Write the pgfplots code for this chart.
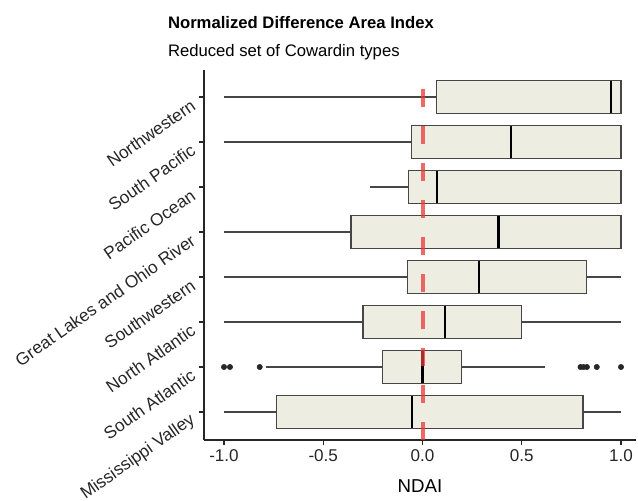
\documentclass[border=0pt]{standalone}
\usepackage{fontspec}
\setmainfont{Liberation Sans}
\usepackage{pgfplots}
\pgfplotsset{compat=1.18}
\usepgfplotslibrary{statistics}
\definecolor{boxfill}{RGB}{237,237,225}
\definecolor{boxedge}{RGB}{70,70,70}
\definecolor{refred}{RGB}{235,55,55}
\begin{document}
\begin{tikzpicture}
\begin{axis}[
  scale only axis,
  width=324pt, height=277.5pt,
  xmin=-1.1008, xmax=1.0756,
  ymin=0.378, ymax=8.6,
  axis lines*=left,
  axis line style={black!85, line width=0.8pt},
  tick align=outside,
  major tick length=3.75pt,
  tick style={black!85, line width=0.8pt},
  xtick={-1,-0.5,0,0.5,1},
  xticklabels={-1.0,-0.5,0.0,0.5,1.0},
  ytick={1,2,3,4,5,6,7,8},
  yticklabels={Mississippi Valley,South Atlantic,North Atlantic,Southwestern,Great Lakes and Ohio River,Pacific Ocean,South Pacific,Northwestern},
  yticklabel style={yshift=-3pt, xshift=-1.5pt, rotate=35, anchor=east, font=\fontsize{13}{15}\selectfont, text=black!85},
  xticklabel style={font=\fontsize{12.8}{15}\selectfont, text=black!85},
  /pgf/number format/assume math mode=true,
  xlabel={NDAI},
  xlabel style={at={(axis description cs:0.5,0)}, anchor=base, yshift=-39pt, font=\fontsize{14}{16}\selectfont},
  boxplot/draw direction=x,
  boxplot/box extend=0.73,
  boxplot/whisker extend=0,
  boxplot/every box/.style={draw=boxedge, fill=boxfill, line width=1pt},
  boxplot/every whisker/.style={draw=boxedge, line width=0.9pt},
  boxplot/every median/.style={draw=black, line width=1.6pt},
  clip=false,
]
\addplot[boxplot prepared={lower whisker=-1.0, lower quartile=0.07, median=0.95, upper quartile=1.0, upper whisker=1.0, draw position=8}] coordinates {};
\addplot[boxplot prepared={lower whisker=-1.0, lower quartile=-0.054, median=0.447, upper quartile=1.0, upper whisker=1.0, draw position=7}] coordinates {};
\addplot[boxplot prepared={lower whisker=-0.264, lower quartile=-0.07, median=0.074, upper quartile=1.0, upper whisker=1.0, draw position=6}] coordinates {};
\addplot[boxplot prepared={lower whisker=-1.0, lower quartile=-0.36, median=0.383, upper quartile=1.0, upper whisker=1.0, draw position=5}] coordinates {};
\addplot[boxplot prepared={lower whisker=-1.0, lower quartile=-0.077, median=0.284, upper quartile=0.825, upper whisker=1.0, draw position=4}] coordinates {};
\addplot[boxplot prepared={lower whisker=-1.0, lower quartile=-0.30, median=0.114, upper quartile=0.50, upper whisker=1.0, draw position=3}] coordinates {};
\addplot[boxplot prepared={lower whisker=-0.787, lower quartile=-0.203, median=0.0, upper quartile=0.196, upper whisker=0.618, draw position=2}] coordinates {};
\addplot[boxplot prepared={lower whisker=-1.0, lower quartile=-0.734, median=-0.054, upper quartile=0.808, upper whisker=1.0, draw position=1}] coordinates {};
\addplot[only marks, mark=*, mark size=2pt, black!85] coordinates {(-1.0,2) (-0.97,2) (-0.82,2) (0.796,2) (0.811,2) (0.828,2) (0.878,2) (1.0,2)};
\addplot[refred, opacity=0.75, line width=3pt, dash pattern=on 13.5pt off 14.25pt] coordinates {(0,0.378) (0,8.6)};
\coordinate (O) at (rel axis cs:0,0);
\coordinate (T) at (rel axis cs:0,1);
\end{axis}
\node[anchor=base west, font=\fontsize{12.5}{15}\selectfont\bfseries] at ([shift={(-30.5pt,30.75pt)}]T) {Normalized Difference Area Index};
\node[anchor=base west, font=\fontsize{12.5}{15}\selectfont] at ([shift={(-30.5pt,9.75pt)}]T) {Reduced set of Cowardin types};
\pgfresetboundingbox
\path ([shift={(-153pt,-45pt)}]O) rectangle ([shift={(325.5pt,330pt)}]O);
\end{tikzpicture}
\end{document}
